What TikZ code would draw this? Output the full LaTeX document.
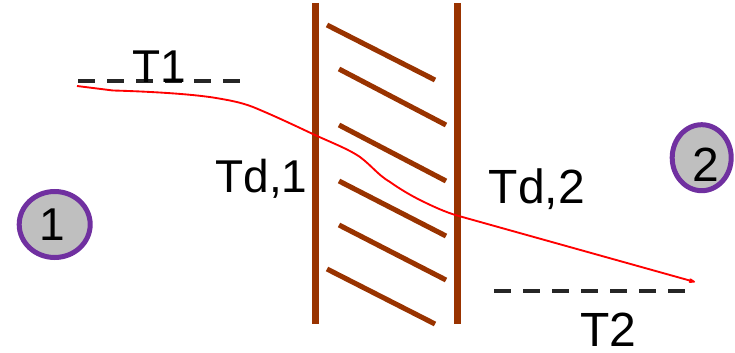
\documentclass[tikz,border=0pt]{standalone}
\usepackage{xcolor}
\usepackage{fontspec}
\setmainfont{Liberation Sans}
\usetikzlibrary{arrows.meta,shapes.geometric}
\definecolor{wallBrown}{HTML}{993300}
\definecolor{stPurple}{HTML}{7030A0}
\definecolor{stGrey}{HTML}{BFBFBF}
\definecolor{dshGrey}{HTML}{262626}

\begin{document}
\begin{tikzpicture}[
  x=0.75pt,y=-0.75pt,
  >={Stealth[round,length=8pt,width=5pt]},
  lbl/.style={font=\fontsize{34.5}{36}\selectfont,anchor=base,inner sep=0pt},
  lblb/.style={font=\fontsize{36}{36}\selectfont,anchor=base,inner sep=0pt},
  wl/.style={draw=wallBrown,line width=5.2pt},
  ht/.style={draw=wallBrown,line width=3.8pt},
  dsh/.style={draw=dshGrey,line width=3pt,dash pattern=on 12.75pt off 9pt},
  st/.style={ellipse,draw=stPurple,line width=3.75pt,fill=stGrey,inner sep=0pt,outer sep=0pt},
]
  \useasboundingbox (0,0) rectangle (735,353);

  % walls
  \draw[wl] (315.5,3) -- (315.5,324);
  \draw[wl] (457.5,3) -- (457.5,324);

  % hatching
  \foreach \xa/\ya/\xb/\yb in {327/25/435/80,339/69/446/125,339/125/446/181,
    339/181/446/236,339/225/446/280,327/269/435/324}
    \draw[ht] (\xa,\ya) -- (\xb,\yb);

  % temperature levels
  \coordinate (t1a) at (78,81);
  \coordinate (t1b) at (241,81);
  \coordinate (t2a) at (494,291);
  \coordinate (t2b) at (686,291);
  \draw[dsh] (t1a) -- (t1b);
  \draw[dsh] (t2a) -- (t2b);

  % profile
  \coordinate (pa) at (77,86);
  \coordinate (pb) at (695,282);
  \draw[->,red,line width=1.4pt] (pa) -- (113,90.5)
    .. controls (150,91.5) and (190,94) .. (213,97.5)
    .. controls (228,100) and (240,102) .. (253,107)
    .. controls (275,116) and (300,128) .. (316,135.5)
    .. controls (335,144) and (350,150) .. (360,157)
    .. controls (372,166) and (378,175) .. (390,182)
    .. controls (400,189) and (410,195) .. (420,200)
    .. controls (432,206) and (445,212) .. (457,215.5)
    -- (pb);

  % labels
  \node[lbl] (t1) at (159,83) {T1};
  \node[lblb] (t2) at (608,346) {T2};
  \node[lbl] (td1) at (261.5,192) {Td,1};
  \node[lblb] (td2) at (537,203) {Td,2};

  % states
  \node[st,minimum width=53.25pt,minimum height=49.5pt] (s1) at (54.7,224.5) {};
  \node[st,minimum width=44.25pt,minimum height=49.5pt] (s2) at (701.7,157.7) {};
  \node[lbl] (n1) at (52,240) {1};
  \node[lblb] (n2) at (705.5,181) {2};
\end{tikzpicture}
\end{document}
